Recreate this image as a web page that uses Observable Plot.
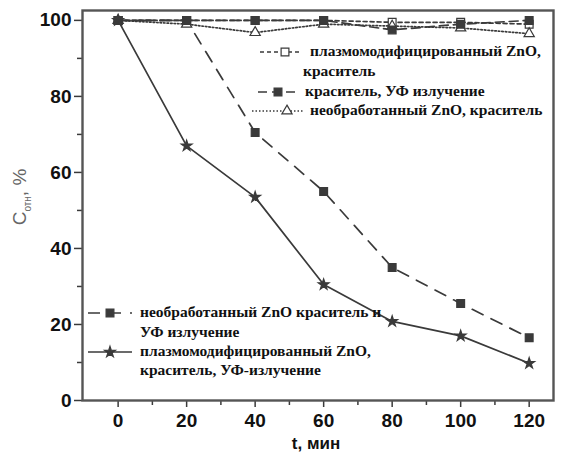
<!DOCTYPE html>
<html><head><meta charset="utf-8">
<script src="https://cdn.jsdelivr.net/npm/d3@7"></script>
<script src="https://cdn.jsdelivr.net/npm/@observablehq/plot@0.6"></script>
<style>
body{margin:0;background:#fff;}
#wrap{position:relative;width:563px;height:453px;overflow:hidden;background:#fff;}
.lg{position:absolute;font:bold 15.5px "Liberation Serif","DejaVu Serif",serif;color:#111;white-space:nowrap;line-height:16px;}
.ax{position:absolute;font-family:"Liberation Sans",Arial,sans-serif;white-space:nowrap;}
</style></head><body><div id="wrap"></div>
<script>
// ---- data ----
const times = [0, 20, 40, 60, 80, 100, 120];
const plasmaDye      = [100, 100, 100, 100, 99.5, 99.5, 99];   // open squares
const dyeUV          = [100, 100, 100, 100, 97.5, 99, 100];     // filled squares (top)
const untreatedDye   = [100, 99, 96.8, 99, 98.5, 98, 96.5];     // triangles
const untreatedDyeUV = [100, 100, 70.5, 55, 35, 25.5, 16.5];    // filled squares, dashed
const plasmaDyeUV    = [100, 67, 53.5, 30.5, 20.8, 17, 9.8];    // stars, solid
const yTicks = [0, 20, 40, 60, 80, 100];
const yMinor = [10, 30, 50, 70, 90];
const xTicks = [0, 20, 40, 60, 80, 100, 120];
const xMinor = [10, 30, 50, 70, 90, 110];

const ink = "#3a3a3a";
const series = [
  {key: "plasmaDye", values: plasmaDye, symbol: "square", fill: "white", dash: "4,3", r: 4.4},
  {key: "untreatedDye", values: untreatedDye, symbol: "triangle", fill: "white", dash: "1.5,2", r: 3.8},
  {key: "dyeUV", values: dyeUV, symbol: "square", fill: ink, dash: "9,5", r: 4.4},
  {key: "untreatedDyeUV", values: untreatedDyeUV, symbol: "square", fill: ink, dash: "12,9", r: 4.4},
  {key: "plasmaDyeUV", values: plasmaDyeUV, symbol: "star", fill: ink, dash: null, r: 3.4}
];
const rows = s => times.map((t, i) => ({t, v: s.values[i], key: s.key}));

const marks = [];
for (const s of series) {
  marks.push(Plot.line(rows(s), {x: "t", y: "v", stroke: ink, strokeWidth: 1.7, strokeDasharray: s.dash}));
}
for (const s of series) {
  marks.push(Plot.dot(rows(s), {x: "t", y: "v", symbol: s.symbol, r: s.r, fill: s.fill, stroke: ink, strokeWidth: 1.2}));
}
const axFont = {fontSize: 19, fontWeight: "bold", fontFamily: "Liberation Sans, Arial, sans-serif"};
marks.push(
  Plot.axisY({ticks: yTicks, tickSize: 8, tickPadding: 3, stroke: ink, strokeWidth: 1.5, label: null, ...axFont}),
  Plot.axisY({ticks: yMinor, tickSize: 5, tickFormat: () => "", stroke: ink, strokeWidth: 1.5, label: null}),
  Plot.axisX({ticks: xTicks, tickSize: 7, tickPadding: 6, stroke: ink, strokeWidth: 1.5, label: null, ...axFont}),
  Plot.axisX({ticks: xMinor, tickSize: 5, tickFormat: () => "", stroke: ink, strokeWidth: 1.5, label: null}),
  Plot.frame({stroke: "#555", strokeWidth: 2.4})
);

const chart = Plot.plot({
  width: 563, height: 453,
  marginLeft: 82, marginRight: 10, marginTop: 10, marginBottom: 53,
  x: {domain: [-10.4, 127.1]},
  y: {domain: [0, 102.6]},
  style: {background: "transparent", color: "#111"},
  marks
});
const wrap = document.getElementById("wrap");
wrap.appendChild(chart);

// ---- legends (overlay) ----
const ov = d3.select(wrap).append("svg")
  .attr("width", 563).attr("height", 453)
  .style("position", "absolute").style("left", "0").style("top", "0").style("pointer-events", "none");
function sample(s, x1, x2, xm, y) {
  ov.append("line").attr("x1", x1).attr("x2", x2).attr("y1", y).attr("y2", y)
    .attr("stroke", ink).attr("stroke-width", 1.7).attr("stroke-dasharray", s.dash);
  const sym = {square: d3.symbolSquare, triangle: d3.symbolTriangle, star: d3.symbolStar}[s.symbol];
  ov.append("path").attr("d", d3.symbol(sym, Math.PI * s.r * s.r)())
    .attr("transform", `translate(${xm},${y})`)
    .attr("fill", s.fill).attr("stroke", ink).attr("stroke-width", 1.2);
}
function label(text, x, y) {
  const d = document.createElement("div");
  d.className = "lg"; d.textContent = text;
  d.style.left = x + "px"; d.style.top = (y - 9) + "px";
  wrap.appendChild(d);
}
const S = Object.fromEntries(series.map(s => [s.key, s]));
// top-right legend
sample(S.plasmaDye, 260, 302, 285, 52);
label("плазмомодифицированный ZnO,", 310, 52);
label("краситель", 303, 72);
sample(S.dyeUV, 258, 300, 278, 92);
label("краситель, УФ излучение", 305, 92);
sample(S.untreatedDye, 252, 304, 287, 111);
label("необработанный ZnO, краситель", 310, 111);
// bottom-left legend
sample(S.untreatedDyeUV, 88, 132, 110, 313);
label("необработанный ZnO краситель и", 140, 313);
label("УФ излучение", 140, 333);
sample(S.plasmaDyeUV, 88, 132, 110, 352);
label("плазмомодифицированный ZnO,", 140, 352);
label("краситель, УФ-излучение", 140, 371);

// axis titles
const yl = document.createElement("div");
yl.className = "ax";
yl.innerHTML = "C<sub style='font-size:10px'>отн</sub>, %";
yl.style.cssText += "font-size:19px;color:#666;left:21px;top:197px;transform:translate(-50%,-50%) rotate(-90deg);";
wrap.appendChild(yl);
const xl = document.createElement("div");
xl.className = "ax";
xl.textContent = "t, мин";
xl.style.cssText += "font-size:17px;font-weight:bold;color:#111;left:316px;top:444px;transform:translate(-50%,-50%);";
wrap.appendChild(xl);
</script>
</body></html>
